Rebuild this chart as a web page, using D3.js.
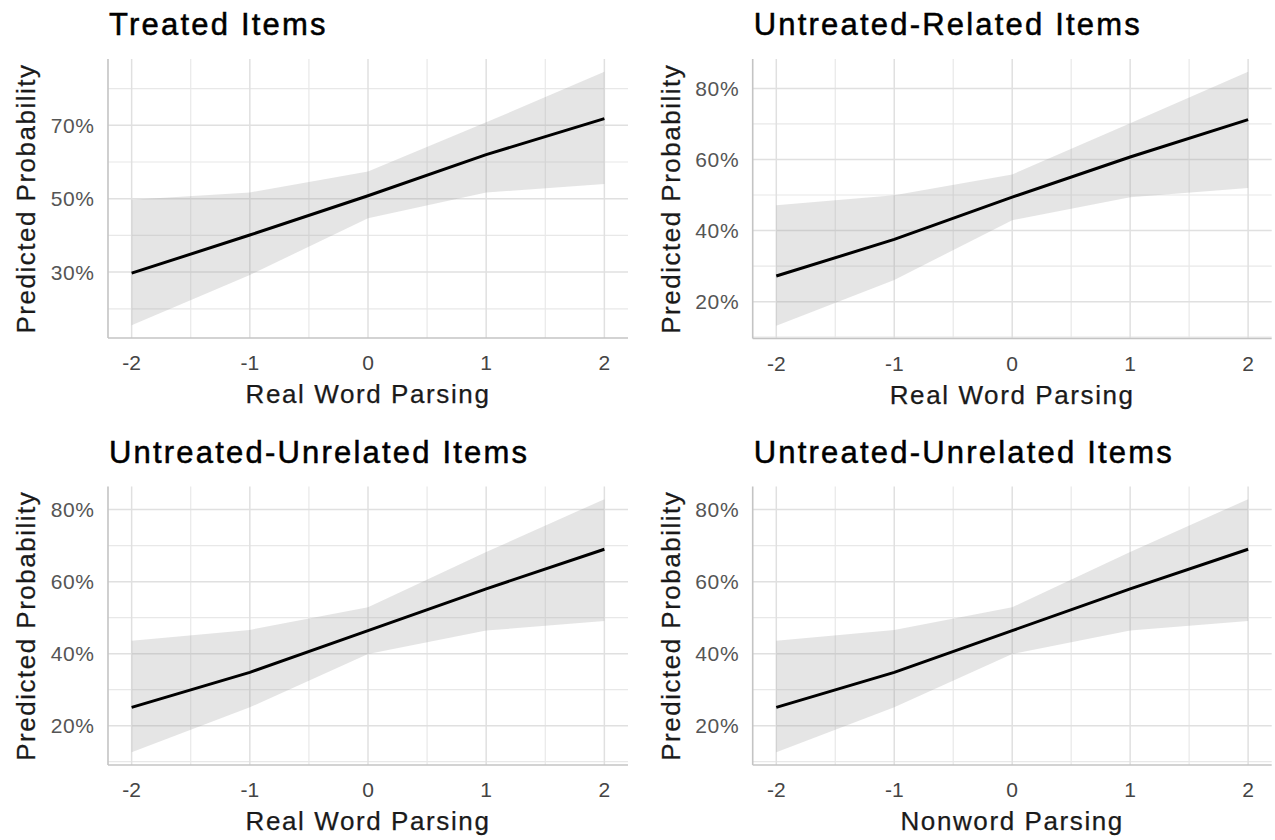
<!DOCTYPE html>
<html>
<head>
<meta charset="utf-8">
<script src="https://cdn.jsdelivr.net/npm/d3@7"></script>
<style>
  html, body { margin: 0; padding: 0; background: #fff; }
  svg { display: block; font-family: "Liberation Sans", Arial, Helvetica, sans-serif; }
</style>
</head>
<body>
<svg id="chart" width="1275" height="840"></svg>
<script>
// ---------- data ----------
const xValues = [-2, -1, 0, 1, 2];
const xTickLabels = ["-2", "-1", "0", "1", "2"];
const panelTitles = ["Treated Items", "Untreated-Related Items", "Untreated-Unrelated Items", "Untreated-Unrelated Items"];
const xAxisTitles = ["Real Word Parsing", "Real Word Parsing", "Real Word Parsing", "Nonword Parsing"];
const yAxisTitle = "Predicted Probability";

const treatedFit   = [0.297, 0.401, 0.508, 0.620, 0.718];
const treatedLower = [0.155, 0.292, 0.447, 0.517, 0.540];
const treatedUpper = [0.497, 0.517, 0.574, 0.708, 0.846];

const relatedFit   = [0.272, 0.375, 0.494, 0.607, 0.712];
const relatedLower = [0.132, 0.261, 0.429, 0.494, 0.520];
const relatedUpper = [0.471, 0.499, 0.558, 0.702, 0.847];

const unrelatedRwFit   = [0.251, 0.348, 0.464, 0.580, 0.690];
const unrelatedRwLower = [0.126, 0.251, 0.399, 0.464, 0.491];
const unrelatedRwUpper = [0.436, 0.466, 0.529, 0.682, 0.829];

const unrelatedNwFit   = [0.251, 0.348, 0.464, 0.580, 0.690];
const unrelatedNwLower = [0.126, 0.251, 0.399, 0.464, 0.491];
const unrelatedNwUpper = [0.436, 0.466, 0.529, 0.682, 0.829];

const yTicksTreated = [0.3, 0.5, 0.7];
const yMinorTreated = [0.2, 0.4, 0.6, 0.8];
const yTicksOther = [0.2, 0.4, 0.6, 0.8];
const yMinorOther = [0.1, 0.3, 0.5, 0.7, 0.9];
const xMinor = [-1.5, -0.5, 0.5, 1.5];

// ---------- layout ----------
const panels = [
  { fit: treatedFit, lo: treatedLower, hi: treatedUpper, ticks: yTicksTreated, minor: yMinorTreated,
    left: 108, right: 628, top: 59, bottom: 338 },
  { fit: relatedFit, lo: relatedLower, hi: relatedUpper, ticks: yTicksOther, minor: yMinorOther,
    left: 752.7, right: 1271.7, top: 59, bottom: 338.5 },
  { fit: unrelatedRwFit, lo: unrelatedRwLower, hi: unrelatedRwUpper, ticks: yTicksOther, minor: yMinorOther,
    left: 108, right: 628, top: 486.5, bottom: 765 },
  { fit: unrelatedNwFit, lo: unrelatedNwLower, hi: unrelatedNwUpper, ticks: yTicksOther, minor: yMinorOther,
    left: 752.7, right: 1271.7, top: 486.5, bottom: 765 }
];

const svg = d3.select("#chart");
const pctFmt = d3.format(".0%");

panels.forEach((p, i) => {
  const g = svg.append("g");
  const xExt = d3.extent(xValues);
  const xPad = (xExt[1] - xExt[0]) * 0.05;
  const x = d3.scaleLinear().domain([xExt[0] - xPad, xExt[1] + xPad]).range([p.left, p.right]);
  const yMin = d3.min(p.lo), yMax = d3.max(p.hi);
  const yPad = (yMax - yMin) * 0.05;
  const y = d3.scaleLinear().domain([yMin - yPad, yMax + yPad]).range([p.bottom, p.top]);
  const yDom = y.domain();

  // grid
  const grid = g.append("g");
  const yMinorIn = p.minor.filter(v => v >= yDom[0] && v <= yDom[1]);
  grid.selectAll(".hminor").data(yMinorIn).join("line")
    .attr("x1", p.left).attr("x2", p.right)
    .attr("y1", d => y(d)).attr("y2", d => y(d))
    .attr("stroke", "#e8e8e8").attr("stroke-width", 1.2);
  grid.selectAll(".vminor").data(xMinor).join("line")
    .attr("class", "vminor")
    .attr("y1", p.top).attr("y2", p.bottom)
    .attr("x1", d => x(d)).attr("x2", d => x(d))
    .attr("stroke", "#e8e8e8").attr("stroke-width", 1.2);
  grid.selectAll(".hmajor").data(p.ticks).join("line")
    .attr("class", "hmajor")
    .attr("x1", p.left).attr("x2", p.right)
    .attr("y1", d => y(d)).attr("y2", d => y(d))
    .attr("stroke", "#e0e0e0").attr("stroke-width", 1.5);
  grid.selectAll(".vmajor").data(xValues).join("line")
    .attr("class", "vmajor")
    .attr("y1", p.top).attr("y2", p.bottom)
    .attr("x1", d => x(d)).attr("x2", d => x(d))
    .attr("stroke", "#e0e0e0").attr("stroke-width", 1.5);

  // ribbon
  const pts = xValues.map((xv, k) => ({ x: xv, fit: p.fit[k], lo: p.lo[k], hi: p.hi[k] }));
  const area = d3.area().x(d => x(d.x)).y0(d => y(d.lo)).y1(d => y(d.hi));
  g.append("path").datum(pts).attr("d", area)
    .attr("fill", "#999999").attr("fill-opacity", 0.26);

  // line
  const line = d3.line().x(d => x(d.x)).y(d => y(d.fit));
  g.append("path").datum(pts).attr("d", line)
    .attr("fill", "none").attr("stroke", "#000").attr("stroke-width", 3);

  // axis lines
  g.append("line").attr("x1", p.left).attr("x2", p.left).attr("y1", p.top).attr("y2", p.bottom)
    .attr("stroke", "#c4c4c4").attr("stroke-width", 1.6);
  g.append("line").attr("x1", p.left).attr("x2", p.right).attr("y1", p.bottom).attr("y2", p.bottom)
    .attr("stroke", "#c4c4c4").attr("stroke-width", 1.6);

  // tick labels
  g.selectAll(".ylab").data(p.ticks).join("text")
    .attr("x", p.left - 13.5).attr("y", d => y(d)).attr("dy", "0.36em")
    .attr("text-anchor", "end").attr("fill", "#555").attr("font-size", 21)
    .attr("letter-spacing", "0.6px")
    .text(d => pctFmt(d));
  g.selectAll(".xlab").data(xValues).join("text")
    .attr("x", d => x(d)).attr("y", p.bottom + 32)
    .attr("text-anchor", "middle").attr("fill", "#444").attr("font-size", 21)
    .text((d, k) => xTickLabels[k]);

  // titles
  g.append("text").attr("x", p.left + 1).attr("y", p.top - 24)
    .attr("font-size", 31).attr("fill", "#000").attr("stroke", "#000").attr("stroke-width", 0.5)
    .attr("letter-spacing", "2.2px")
    .text(panelTitles[i]);
  g.append("text").attr("x", (p.left + p.right) / 2).attr("y", p.bottom + 65)
    .attr("text-anchor", "middle").attr("font-size", 26).attr("fill", "#1a1a1a")
    .attr("stroke", "#1a1a1a").attr("stroke-width", 0.25).attr("letter-spacing", "1.6px")
    .text(xAxisTitles[i]);
  const cy = (p.top + p.bottom) / 2, cx = p.left - 73;
  g.append("text").attr("transform", `translate(${cx},${cy}) rotate(-90)`)
    .attr("text-anchor", "middle").attr("font-size", 26).attr("fill", "#1a1a1a")
    .attr("stroke", "#1a1a1a").attr("stroke-width", 0.25).attr("letter-spacing", "1.5px")
    .text(yAxisTitle);
});
</script>
</body>
</html>
